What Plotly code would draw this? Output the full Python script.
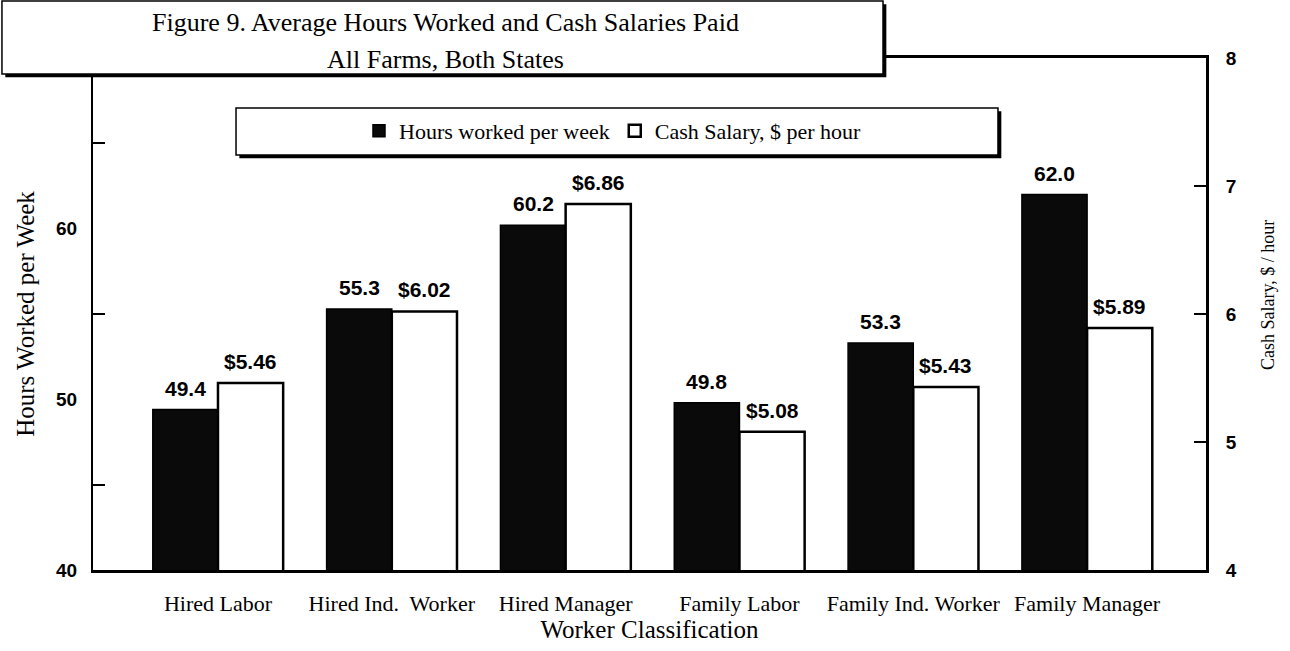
import plotly.graph_objects as go

categories = ["Hired Labor", "Hired Ind.  Worker", "Hired Manager",
              "Family Labor", "Family Ind. Worker", "Family Manager"]
hours_per_week = [49.4, 55.3, 60.2, 49.8, 53.3, 62.0]
salary_per_hour = [5.46, 6.02, 6.86, 5.08, 5.43, 5.89]
hours_labels = ["49.4", "55.3", "60.2", "49.8", "53.3", "62.0"]
salary_labels = ["$5.46", "$6.02", "$6.86", "$5.08", "$5.43", "$5.89"]
left_ticks = [40, 50, 60]
left_minor_ticks = [45, 55, 65]
right_ticks = [4, 5, 6, 7, 8]

SERIF = "Liberation Serif, Times New Roman, serif"
SANS = "Liberation Sans, Arial, sans-serif"

fig = go.Figure()
fig.add_trace(go.Bar(
    x=categories, y=hours_per_week, name="Hours worked per week",
    marker=dict(color="#0a0a0a", line=dict(color="black", width=1.5)),
    offsetgroup="hours", yaxis="y",
))
fig.add_trace(go.Bar(
    x=categories, y=salary_per_hour, name="Cash Salary, $ per hour",
    marker=dict(color="white", line=dict(color="black", width=2.5)),
    offsetgroup="salary", yaxis="y2",
))

bargap = 0.25
half = (1 - bargap) / 4  # offset of each bar's centre from the category centre
label_font = dict(family=SANS, size=21, color="black", weight="bold")
annotations = []
for i, (v, t) in enumerate(zip(hours_per_week, hours_labels)):
    annotations.append(dict(x=i - half, y=v, xref="x", yref="y", text=t,
                            showarrow=False, yanchor="bottom", yshift=8, font=label_font))
for i, (v, t) in enumerate(zip(salary_per_hour, salary_labels)):
    annotations.append(dict(x=i + half, y=v, xref="x", yref="y2", text=t,
                            showarrow=False, yanchor="bottom", yshift=8, font=label_font))

# title text inside its box
annotations.append(dict(x=0.3163, y=1.0703, xref="paper", yref="paper",
                        text="Figure 9. Average Hours Worked and Cash Salaries Paid",
                        showarrow=False, xanchor="center", yanchor="middle",
                        font=dict(family=SERIF, size=26, color="black")))
annotations.append(dict(x=0.3163, y=0.998, xref="paper", yref="paper",
                        text="All Farms, Both States",
                        showarrow=False, xanchor="center", yanchor="middle",
                        font=dict(family=SERIF, size=26, color="black")))
# right axis title
annotations.append(dict(x=1.0557, y=0.537, xref="paper", yref="paper",
                        text="Cash Salary, $ / hour", textangle=-90,
                        showarrow=False, xanchor="center", yanchor="middle",
                        font=dict(family=SERIF, size=18, color="black")))

dx, dy = 0.0030, 0.0065
shapes = [
    # title box shadow + box
    dict(type="rect", xref="paper", yref="paper", x0=-0.0818 + dx, x1=0.7098 + dx,
         y0=0.96875 - dy, y1=1.1113 - dy, fillcolor="black", line=dict(width=0), layer="above"),
    dict(type="rect", xref="paper", yref="paper", x0=-0.0818, x1=0.7098,
         y0=0.96875, y1=1.1113, fillcolor="white", line=dict(color="black", width=1.5), layer="above"),
    # legend box shadow + box
    dict(type="rect", xref="paper", yref="paper", x0=0.1285 + dx, x1=0.8131 + dx,
         y0=0.8105 - dy, y1=0.9023 - dy, fillcolor="black", line=dict(width=0), layer="above"),
    dict(type="rect", xref="paper", yref="paper", x0=0.1285, x1=0.8131,
         y0=0.8105, y1=0.9023, fillcolor="white", line=dict(color="black", width=1.5), layer="above"),
]

fig.update_layout(
    width=1290, height=651,
    margin=dict(l=93, r=84, t=58, b=81),
    paper_bgcolor="white", plot_bgcolor="white",
    barmode="group", bargap=bargap, bargroupgap=0,
    showlegend=True,
    legend=dict(orientation="h", x=0.4672, y=0.8574, xanchor="center", yanchor="middle",
                bgcolor="rgba(0,0,0,0)", borderwidth=0,
                font=dict(family=SERIF, size=22, color="black"),
                itemwidth=30, traceorder="normal"),
    xaxis=dict(
        type="category", range=[-0.719, 5.684],
        showline=True, linecolor="black", linewidth=2.5, mirror=True,
        ticks="", showgrid=False, zeroline=False,
        tickfont=dict(family=SERIF, size=22, color="black"),
        ticklabelstandoff=12,
        title=dict(text="Worker Classification", standoff=4,
                   font=dict(family=SERIF, size=25, color="black")),
    ),
    yaxis=dict(
        range=[40, 70], tickvals=left_ticks, ticks="",
        minor=dict(tickvals=left_minor_ticks, ticks="inside", ticklen=12,
                   tickwidth=2, tickcolor="black", showgrid=False),
        showline=True, linecolor="black", linewidth=2,
        showgrid=False, zeroline=False,
        tickfont=dict(family=SANS, size=19, color="black", weight="bold"),
        ticklabelstandoff=10,
        title=dict(text="Hours Worked per Week", standoff=14,
                   font=dict(family=SERIF, size=25, color="black")),
    ),
    yaxis2=dict(
        range=[4, 8], tickvals=right_ticks, overlaying="y", side="right",
        ticks="inside", ticklen=12, tickwidth=2, tickcolor="black",
        showline=True, linecolor="black", linewidth=3,
        showgrid=False, zeroline=False,
        tickfont=dict(family=SANS, size=19, color="black", weight="bold"),
        ticklabelstandoff=13,
    ),
    annotations=annotations,
    shapes=shapes,
)

fig.write_html("out.html", config={"displayModeBar": False},
               post_script="document.body.style.margin='0';")
